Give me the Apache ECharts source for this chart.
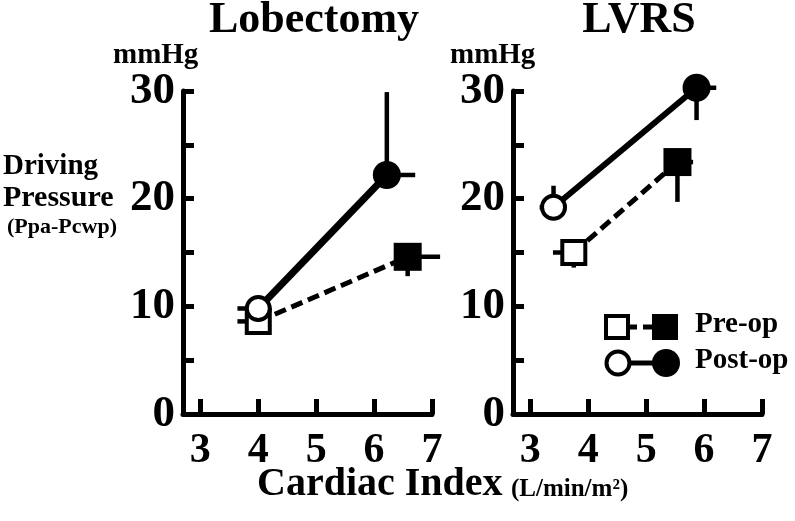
<!DOCTYPE html>
<html>
<head>
<meta charset="utf-8">
<script src="https://cdn.jsdelivr.net/npm/echarts@6/dist/echarts.min.js"></script>
<style>
html,body{margin:0;padding:0;background:#fff;}
#c{width:795px;height:521px;}
</style>
</head>
<body>
<div id="c"></div>
<script>
// ---- data ----
const panelTitles = ['Lobectomy', 'LVRS'];
const xTicks = [3, 4, 5, 6, 7];
const yTicks = [0, 5, 10, 15, 20, 25, 30];
const yLabels = [0, 10, 20, 30];

// Lobectomy
const lobPreX = [4.0, 6.58];
const lobPreY = [8.6, 14.6];
const lobPreXErr = [3.64, 7.14];   // end of horizontal error bar
const lobPreYErr = [null, 12.8];   // end of vertical error bar
const lobPostX = [4.0, 6.22];
const lobPostY = [9.8, 22.2];
const lobPostXErr = [3.64, 6.71];
const lobPostYErr = [null, 29.9];

// LVRS
const lvrsPreX = [3.75, 5.54];
const lvrsPreY = [15.0, 23.4];
const lvrsPreXErr = [3.39, 5.81];
const lvrsPreYErr = [13.6, 19.7];
const lvrsPostX = [3.40, 5.87];
const lvrsPostY = [19.2, 30.3];
const lvrsPostXErr = [3.16, 6.21];
const lvrsPostYErr = [21.2, 27.3];

const legendNames = ['Pre-op', 'Post-op'];

// ---- build ----
const FONT = "'Liberation Serif', 'Times New Roman', serif";

function pts(xs, ys) { return xs.map((x, i) => [x, ys[i]]); }
function segs(xs, ys, xe, ye) {
  const out = [];
  xs.forEach((x, i) => {
    if (xe[i] != null) out.push([x, ys[i], xe[i], ys[i]]);
    if (ye[i] != null) out.push([x, ys[i], x, ye[i]]);
  });
  return out;
}
function styledPoints(xs, ys) {
  return pts(xs, ys).map((p, i) => {
    const open = i === 0;
    return {
      value: p,
      symbolSize: open ? 23 : 28,
      itemStyle: open
        ? { color: '#fff', borderColor: '#000', borderWidth: 4 }
        : { color: '#000', borderColor: '#000', borderWidth: 0 }
    };
  });
}

const grids = [
  { left: 183, top: 91, width: 249, height: 323 },
  { left: 513, top: 91, width: 249, height: 323 }
];

function xAxis(gi) {
  return {
    gridIndex: gi, type: 'value', min: 2.7, max: 7,
    axisLine: { show: true, lineStyle: { color: '#000', width: 5 } },
    axisTick: { show: true, inside: true, length: 15, customValues: xTicks, lineStyle: { color: '#000', width: 5 } },
    axisLabel: { customValues: xTicks, margin: 16, color: '#000', fontFamily: FONT, fontWeight: 'bold', fontSize: 42 },
    splitLine: { show: false }
  };
}
function yAxis(gi) {
  return {
    gridIndex: gi, type: 'value', min: 0, max: 30,
    axisLine: { show: true, lineStyle: { color: '#000', width: 5 } },
    axisTick: { show: true, inside: true, length: 11, customValues: yTicks, lineStyle: { color: '#000', width: 5 } },
    axisLabel: { customValues: yLabels, margin: 8, color: '#000', fontFamily: FONT, fontWeight: 'bold', fontSize: 45 },
    splitLine: { show: false }
  };
}

function errSeries(gi, data) {
  return {
    type: 'custom', xAxisIndex: gi, yAxisIndex: gi, z: 1, clip: false,
    data: data,
    encode: { x: [0, 2], y: [1, 3] },
    renderItem: function (params, api) {
      const a = api.coord([api.value(0), api.value(1)]);
      const b = api.coord([api.value(2), api.value(3)]);
      return { type: 'line', shape: { x1: a[0], y1: a[1], x2: b[0], y2: b[1] },
               style: { stroke: '#000', lineWidth: 4.5 } };
    }
  };
}
function lineSeries(gi, name, xs, ys, dashed, width, z) {
  return {
    type: 'line', name: name, xAxisIndex: gi, yAxisIndex: gi, z: z, clip: false,
    symbol: dashed ? 'rect' : 'circle',
    data: styledPoints(xs, ys),
    lineStyle: { color: '#000', width: width, type: dashed ? [12, 6] : 'solid' },
    emphasis: { disabled: true },
    animation: false
  };
}

const series = [
  errSeries(0, segs(lobPreX, lobPreY, lobPreXErr, lobPreYErr).concat(segs(lobPostX, lobPostY, lobPostXErr, lobPostYErr))),
  errSeries(1, segs(lvrsPreX, lvrsPreY, lvrsPreXErr, lvrsPreYErr).concat(segs(lvrsPostX, lvrsPostY, lvrsPostXErr, lvrsPostYErr))),
  lineSeries(0, legendNames[0], lobPreX, lobPreY, true, 5, 3),
  lineSeries(0, legendNames[1], lobPostX, lobPostY, false, 7, 4),
  lineSeries(1, legendNames[0], lvrsPreX, lvrsPreY, true, 5, 3),
  lineSeries(1, legendNames[1], lvrsPostX, lvrsPostY, false, 6, 4)
];

function txt(x, y, text, size, align) {
  return { type: 'text', x: x, y: y, style: { text: text, fill: '#000', font: 'bold ' + size + 'px ' + FONT, textAlign: align || 'left', textVerticalAlign: 'middle' } };
}

const graphic = [
  txt(314, 21, panelTitles[0], 44, 'center'),
  txt(639, 21, panelTitles[1], 44, 'center'),
  txt(113, 56, 'mmHg', 29),
  txt(450, 56, 'mmHg', 29),
  txt(3, 167, 'Driving', 29),
  txt(3, 198, 'Pressure', 30),
  txt(7, 227, '(Ppa-Pcwp)', 22),
  txt(257, 485, 'Cardiac Index', 40),
  txt(511, 490, '(L/min/m²)', 25),
  // legend
  { type: 'line', shape: { x1: 628, y1: 327, x2: 652, y2: 327 }, style: { stroke: '#000', lineWidth: 5, lineDash: [9, 6] } },
  { type: 'rect', shape: { x: 606, y: 316, width: 22, height: 22 }, style: { fill: '#fff', stroke: '#000', lineWidth: 4 } },
  { type: 'rect', shape: { x: 652, y: 314, width: 26, height: 26 }, style: { fill: '#000' } },
  { type: 'line', shape: { x1: 628, y1: 363, x2: 654, y2: 363 }, style: { stroke: '#000', lineWidth: 5 } },
  { type: 'circle', shape: { cx: 618, cy: 363, r: 11.5 }, style: { fill: '#fff', stroke: '#000', lineWidth: 4 } },
  { type: 'circle', shape: { cx: 666, cy: 363, r: 14 }, style: { fill: '#000' } },
  txt(695, 325, legendNames[0], 29),
  txt(695, 361, legendNames[1], 29)
];

const chart = echarts.init(document.getElementById('c'), null, { renderer: 'canvas' });
chart.setOption({
  backgroundColor: '#fff',
  animation: false,
  grid: grids,
  xAxis: [xAxis(0), xAxis(1)],
  yAxis: [yAxis(0), yAxis(1)],
  series: series,
  graphic: graphic
});
</script>
</body>
</html>
